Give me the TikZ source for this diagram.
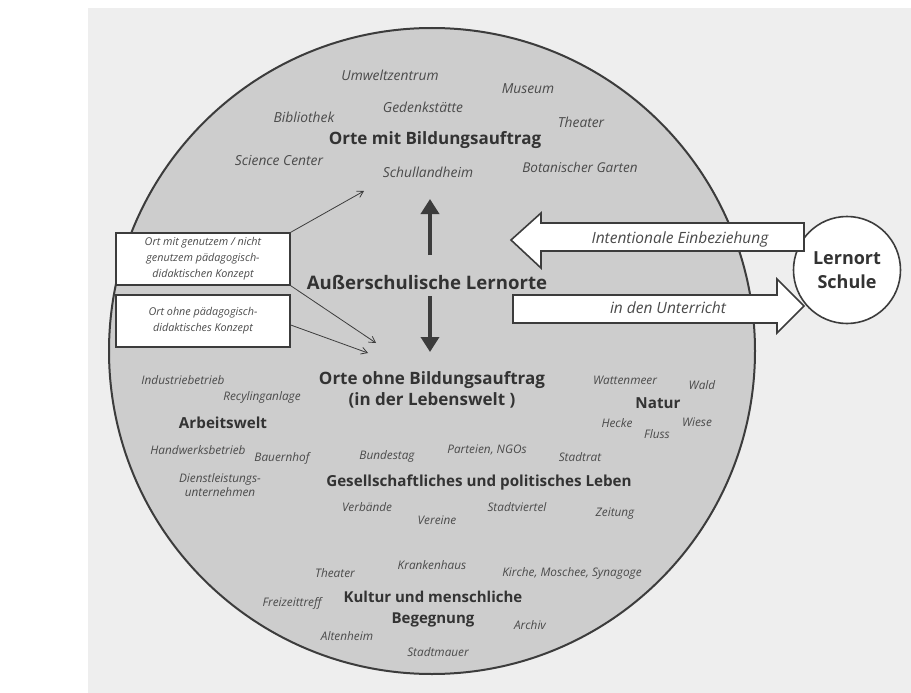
\documentclass[tikz,border=0pt]{standalone}
\usepackage{fontspec}
\setmainfont{Open Sans}
\usetikzlibrary{arrows.meta}
\definecolor{pagec}{HTML}{EEEEEE}
\definecolor{worldc}{HTML}{CDCDCD}
\definecolor{linec}{HTML}{3C3C3C}
\definecolor{labc}{HTML}{4A4A4A}
\definecolor{headc}{HTML}{333333}
\begin{document}
\begin{tikzpicture}[x=1pt,y=-1pt,
  lab/.style={font=\itshape\fontsize{11.8}{13.5}\selectfont, text=labc, inner sep=0pt, align=center},
  labbig/.style={lab, font=\itshape\fontsize{13.8}{15}\selectfont},
  arrowlab/.style={lab, font=\itshape\fontsize{15.5}{17}\selectfont},
  head/.style={font=\bfseries\fontsize{17}{21}\selectfont, text=headc, inner sep=0pt, align=center},
  subhead/.style={head, font=\bfseries\fontsize{15.2}{20}\selectfont},
  boxtext/.style={font=\itshape\fontsize{10.8}{16}\selectfont, text=labc, align=center},
  infobox/.style={draw=linec, line width=1.4pt, fill=white, minimum width=174pt, minimum height=52pt, inner sep=0pt},
  bigarrow/.style={draw=linec, line width=1.6pt, fill=white, line join=miter},
  thinarrow/.style={draw=linec, line width=0.8pt, -{Straight Barb[length=6pt,width=7pt]}},
  thickarrow/.style={draw=linec, line width=3.5pt, -{Triangle[length=15pt,width=18pt]}}
]
\useasboundingbox (0,0) rectangle (911,693);
\fill[white] (0,0) rectangle (911,693);
\fill[pagec] (88,8) rectangle (911,693);

% main circle
\node[circle, draw=linec, line width=2pt, fill=worldc, minimum size=646pt, inner sep=0pt] (world) at (432,351) {};

% school circle
\node[circle, draw=linec, line width=1.6pt, fill=white, minimum size=107pt, inner sep=0pt,
      font=\bfseries\fontsize{18}{24}\selectfont, text=headc, align=center] (schule) at (847,270) {Lernort\\Schule};

% big hollow arrows
\coordinate (ltip) at (511,240);
\coordinate (rtip) at (804,306);
\path[bigarrow] (ltip) -- (541,213) -- (541,223) -- (804,223) -- (804,251) -- (541,251) -- (541,268) -- cycle;
\path[bigarrow] (rtip) -- (777,279) -- (777,295) -- (513,295) -- (513,323) -- (777,323) -- (777,333) -- cycle;
\node[arrowlab] (intent) at (680,239) {Intentionale Einbeziehung};
\node[arrowlab] (unterr) at (668,308) {in den Unterricht};

% headings
\node[head] (mit) at (435,140) {Orte mit Bildungsauftrag};
\node[head, font=\bfseries\fontsize{18.6}{24}\selectfont] (ausser) at (427,282) {Außerschulische Lernorte};
\node[head, font=\bfseries\fontsize{17}{21}\selectfont] (ohne) at (432,390) {Orte ohne Bildungsauftrag\\(in der Lebenswelt )};
\node[subhead] (arbeit) at (223,423) {Arbeitswelt};
\node[subhead] (natur) at (658,403) {Natur};
\node[subhead] (gesell) at (479,483) {Gesellschaftliches und politisches Leben};
\node[subhead, font=\bfseries\fontsize{15}{21}\selectfont] (kultur) at (433,609) {Kultur und menschliche\\Begegnung};

% vertical arrows
\coordinate (upS) at (430,255);
\coordinate (upE) at (430,199);
\coordinate (dnS) at (430,296);
\coordinate (dnE) at (430,352);
\draw[thickarrow] (upS) -- (upE);
\draw[thickarrow] (dnS) -- (dnE);

% boxes
\node[infobox] (box1) at (203,259) {};
\node[boxtext] at (box1.center) {Ort mit genutzem / nicht\\genutzem pädagogisch-\\didaktischen Konzept};
\node[infobox] (box2) at (203,321) {};
\node[boxtext] at (box2.center) {Ort ohne pädagogisch-\\didaktisches Konzept};

\coordinate (t1) at (364,191);
\coordinate (t2) at (376,343);
\coordinate (t3) at (368,353);
\draw[thinarrow] (box1.north east) -- (t1);
\draw[thinarrow] (box1.south east) -- (t2);
\draw[thinarrow] ([yshift=-4pt]box2.east) -- (t3);

% labels upper
\node[labbig] (l1) at (390,75) {Umweltzentrum};
\node[labbig] (l2) at (528,89) {Museum};
\node[labbig] (l3) at (423,107) {Gedenkstätte};
\node[labbig] (l4) at (304,117) {Bibliothek};
\node[labbig] (l5) at (581,122) {Theater};
\node[labbig] (l6) at (279,160) {Science Center};
\node[labbig] (l7) at (428,172) {Schullandheim};
\node[labbig, font=\itshape\fontsize{13.5}{15}\selectfont] (l8) at (580,167) {Botanischer Garten};

% labels Arbeitswelt
\node[lab] (a1) at (183,380) {Industriebetrieb};
\node[lab] (a2) at (262,397) {Recylinganlage};
\node[lab] (a3) at (198,450) {Handwerksbetrieb};
\node[lab] (a4) at (282,458) {Bauernhof};
\node[lab] (a5) at (220,485) {Dienstleistungs-\\unternehmen};

% labels Gesellschaft
\node[lab] (g1) at (387,456) {Bundestag};
\node[lab] (g2) at (487,450) {Parteien, NGOs};
\node[lab] (g3) at (580,457) {Stadtrat};
\node[lab] (g4) at (367,507) {Verbände};
\node[lab] (g5) at (437,520) {Vereine};
\node[lab] (g6) at (517,507) {Stadtviertel};
\node[lab] (g7) at (615,514) {Zeitung};

% labels Natur
\node[lab] (n1) at (625,380) {Wattenmeer};
\node[lab] (n2) at (702,385) {Wald};
\node[lab] (n3) at (617,423) {Hecke};
\node[lab] (n4) at (697,422) {Wiese};
\node[lab] (n5) at (657,434) {Fluss};

% labels Kultur
\node[lab] (k1) at (335,573) {Theater};
\node[lab] (k2) at (432,565) {Krankenhaus};
\node[lab] (k3) at (572,573) {Kirche, Moschee, Synagoge};
\node[lab] (k4) at (292,603) {Freizeittreff};
\node[lab] (k5) at (530,625) {Archiv};
\node[lab] (k6) at (347,636) {Altenheim};
\node[lab] (k7) at (438,652) {Stadtmauer};
\end{tikzpicture}
\end{document}
